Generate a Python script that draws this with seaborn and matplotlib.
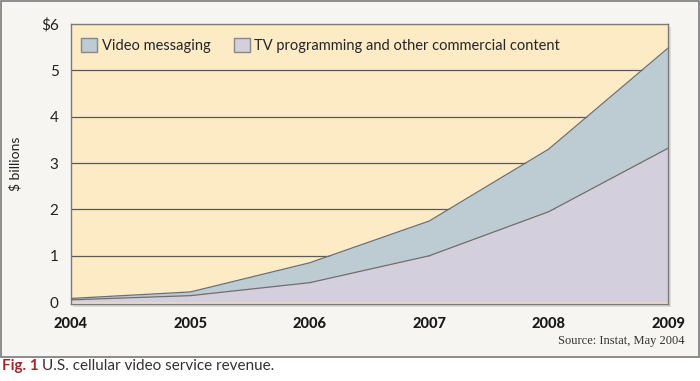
import numpy as np
import pandas as pd
import seaborn as sns
import matplotlib.pyplot as plt
from matplotlib.patches import Rectangle, Patch

# Data ($ billions)
years = [2004, 2005, 2006, 2007, 2008, 2009]
tv_content = [0.05, 0.14, 0.42, 1.0, 1.95, 3.32]
total = [0.08, 0.22, 0.85, 1.75, 3.3, 5.48]
ytick_labels = ["0", "1", "2", "3", "4", "5", "$6"]

df = pd.DataFrame({"year": years, "tv": tv_content, "total": total})

sns.set_style("white")
plt.rcParams["font.family"] = ["Lato", "DejaVu Sans"]

bg = "#f6f5f1"
peach = "#fdebc6"
blue = "#bdcbd3"
lav = "#d3cfdc"
edge = "#6e6e6e"

fig = plt.figure(figsize=(7, 3.81), dpi=100, facecolor="white")
# outer frame
fig.patches.append(Rectangle((0.001, 1 - 357 / 381), 0.997, 357 / 381 - 0.002,
                             transform=fig.transFigure, facecolor=bg,
                             edgecolor="#7a7a7a", linewidth=1.2, zorder=-2))

ax = fig.add_axes([71 / 700, (381 - 304) / 381, 597 / 700, 280 / 381])
ax.set_facecolor(peach)

# shadow behind the plot area
fig.patches.append(Rectangle((73 / 700, (381 - 307) / 381), 598 / 700, 280 / 381,
                             transform=fig.transFigure, facecolor="#dddbd6",
                             edgecolor="none", zorder=-1))

for v in range(1, 6):
    ax.axhline(v, color="#5a5a5a", linewidth=0.9, zorder=1)

ax.fill_between(df["year"], df["tv"], df["total"], color=blue, zorder=2, linewidth=0)
ax.fill_between(df["year"], 0, df["tv"], color=lav, zorder=2, linewidth=0)
sns.lineplot(data=df, x="year", y="total", ax=ax, color=edge, linewidth=0.9, zorder=3)
sns.lineplot(data=df, x="year", y="tv", ax=ax, color=edge, linewidth=0.9, zorder=3)

ax.set_xlim(2004, 2009)
ax.set_ylim(-0.04, 6)
ax.set_yticks(range(0, 7))
ax.set_yticklabels(ytick_labels, fontsize=11, color="#222222")
ax.set_xticks(years)
ax.set_xticklabels([str(y) for y in years], fontsize=10.5, fontweight="black",
                   color="#1a1a1a")
ax.tick_params(axis="both", length=0)
ax.tick_params(axis="x", pad=9)
ax.tick_params(axis="y", pad=9)
ax.set_xlabel("")
ax.set_ylabel("$ billions", fontsize=10, color="#222222", labelpad=14)
for s in ax.spines.values():
    s.set_color("#7a7a7a")
    s.set_linewidth(1.0)

handles = [Patch(facecolor=blue, edgecolor="#888888", label="Video messaging"),
           Patch(facecolor=lav, edgecolor="#888888",
                 label="TV programming and other commercial content")]
ax.legend(handles=handles, loc="upper left", bbox_to_anchor=(0.0, 0.985), ncol=2,
          frameon=False, fontsize=10.5, handlelength=1.1, handleheight=1.1,
          handletextpad=0.3, columnspacing=1.6, borderaxespad=0.3)

fig.text(684 / 700, 1 - 341 / 381, "Source: Instat, May 2004", ha="right", va="center",
         fontsize=9, family="Liberation Serif", color="#333333")

fig.text(2 / 700, 1 - 366 / 381, "Fig. 1", ha="left", va="center", fontsize=11,
         fontweight="bold", color="#a3262b")
fig.text(42 / 700, 1 - 366 / 381, "U.S. cellular video service revenue.", ha="left",
         va="center", fontsize=11, color="#333333")

fig.savefig("out.png", dpi=100, facecolor="white")
